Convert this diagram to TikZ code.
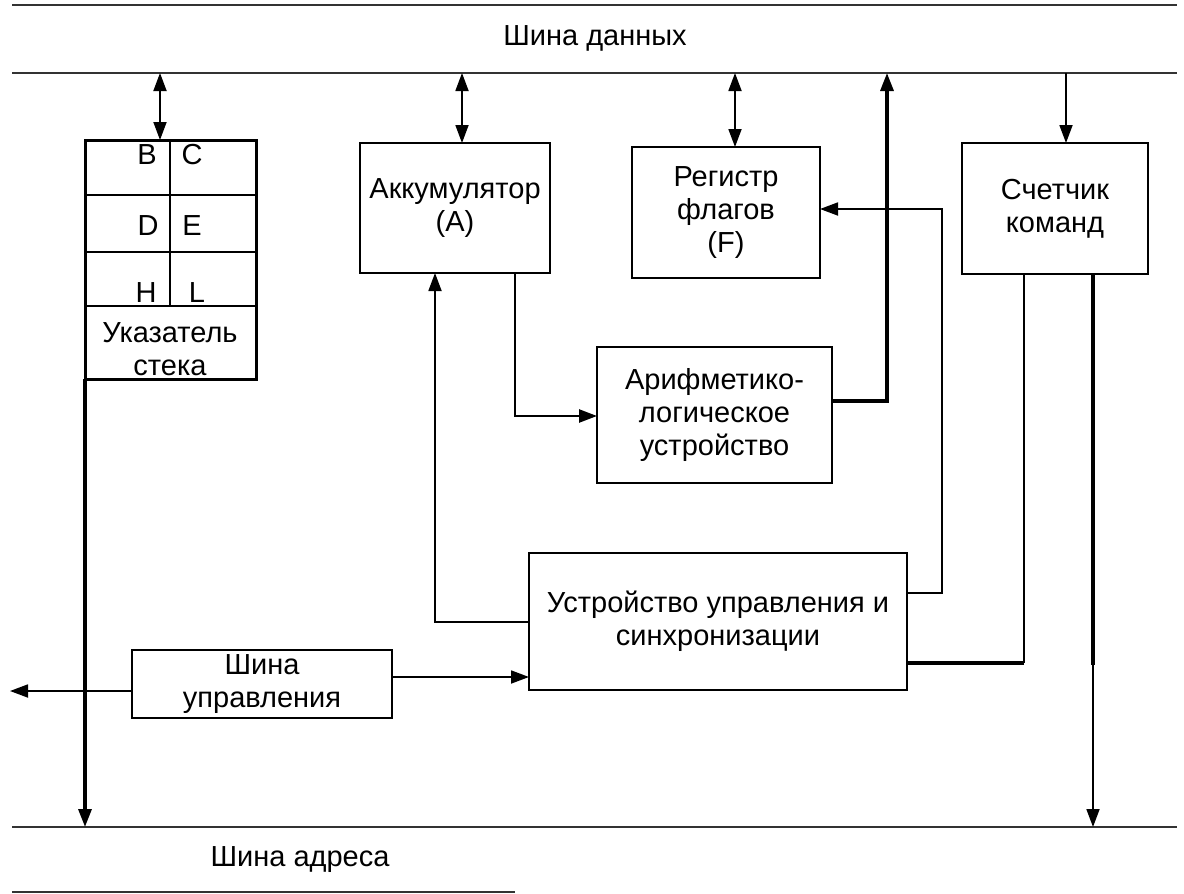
\documentclass[tikz,border=0pt]{standalone}
\usepackage{fontspec}
\setmainfont{Liberation Sans}
\usetikzlibrary{arrows.meta}

\begin{document}
\begin{tikzpicture}[x=0.5pt,y=-0.5pt,
  font=\fontsize{14.5}{16.5}\selectfont,
  >={Triangle[length=9pt,width=6.5pt]},
  blok/.style={draw,line width=1pt,align=center,inner sep=0pt,outer sep=0pt},
  svyaz/.style={line width=0.9pt},
  zhirn/.style={line width=1.6pt},
  shina/.style={line width=1.1pt,black!80}]
  \useasboundingbox (0,0) rectangle (1184,894);
  \def\xl{12} % левый край шин
  \def\xr{1177} % правый край шин
  \def\yd{73} % шина данных
  \def\ya{827} % шина адреса
  % шины
  \draw[shina] (\xl,5) -- (\xr,5);
  \draw[shina] (\xl,\yd) -- (\xr,\yd);
  \draw[shina] (\xl,\ya) -- (\xr,\ya);
  \draw[shina] (\xl,892) -- (515,892);
  \node (dname) at (595,38) {Шина данных};
  \node (aname) at (300,860) {Шина адреса};
  % блоки
  \node[blok,line width=1.5pt,minimum width=85.5pt,minimum height=119.5pt] (regs) at (170.5,259.5) {};
  \node[blok,minimum width=95pt,minimum height=65pt] (acc) at (455,208) {Аккумулятор\\(A)};
  \node[blok,line width=1.4pt,minimum width=94pt,minimum height=65.5pt] (flags) at (726,212.5) {Регистр\\флагов\\(F)};
  \node[blok,minimum width=93pt,minimum height=65.5pt] (pc) at (1055,208.5) {Счетчик\\команд};
  \node[blok,minimum width=117.5pt,minimum height=68pt] (alu) at (714.5,415) {Арифметико-\\логическое\\устройство};
  \node[blok,minimum width=189pt,minimum height=68.5pt] (cu) at (718,621.5) {Устройство управления и\\синхронизации};
  \node[blok,minimum width=130pt,minimum height=34pt] (cbus) at (262,684) {Шина\\управления};
  % регистры B C D E H L
  \foreach \y in {195,252,306}
    \draw[line width=0.8pt] (85,\y) -- (256,\y);
  \draw[line width=1.4pt] (170,140) -- (170,306);
  \node (rb) at (147,155) {B};
  \node (rc) at (192,155) {C};
  \node (rd) at (148,226) {D};
  \node (re) at (192,226) {E};
  \node (rh) at (146,293) {H};
  \node (rl) at (197,293) {L};
  \node[align=center] (sp) at (170,349) {Указатель\\стека};
  % связи с шиной данных
  \coordinate (t1) at (160,\yd);
  \coordinate (t2) at (462,\yd);
  \coordinate (t3) at (735,\yd);
  \coordinate (t4) at (887,401); % выход АЛУ
  \coordinate (t5) at (1066,\yd);
  \draw[svyaz,<->] (t1) -- (regs.north -| t1);
  \draw[svyaz,<->] (t2) -- (acc.north -| t2);
  \draw[svyaz,<->] (t3) -- (flags.north -| t3);
  \draw[zhirn,->] (alu.east |- t4) -- (t4) -- (t4 |- t1);
  \draw[svyaz,->] (t5) -- (pc.north -| t5);
  % внутренние связи
  \coordinate (k1) at (515,416);
  \coordinate (k2) at (435,622);
  \coordinate (f1) at (942,593);
  \coordinate (f2) at (942,209);
  \draw[line width=1.2pt,->] (acc.south -| k1) -- (k1) -- (alu.west |- k1);
  \draw[svyaz,->] (cu.west |- k2) -- (k2) -- (acc.south -| k2);
  \draw[svyaz,->] (cu.east |- f1) -- (f1) -- (f2) -- (flags.east |- f2);
  \coordinate (p1) at (1024,663);
  \coordinate (p2) at (1093,665);
  \coordinate (a1) at (85,\ya);
  \coordinate (a2) at (1093,\ya);
  \draw[svyaz] (pc.south -| p1) -- (p1);
  \draw[zhirn] (p1) -- (cu.east |- p1);
  \draw[zhirn] (pc.south -| p2) -- (p2);
  \draw[svyaz,->] (p2) -- (a2);
  \draw[zhirn,->] (regs.south west) -- (a1);
  % шина управления
  \coordinate (u1) at (10,691);
  \coordinate (u2) at (450,677);
  \draw[svyaz,->] (cbus.west |- u1) -- (u1);
  \draw[svyaz,->] (cbus.east |- u2) -- (cu.west |- u2);
\end{tikzpicture}
\end{document}
